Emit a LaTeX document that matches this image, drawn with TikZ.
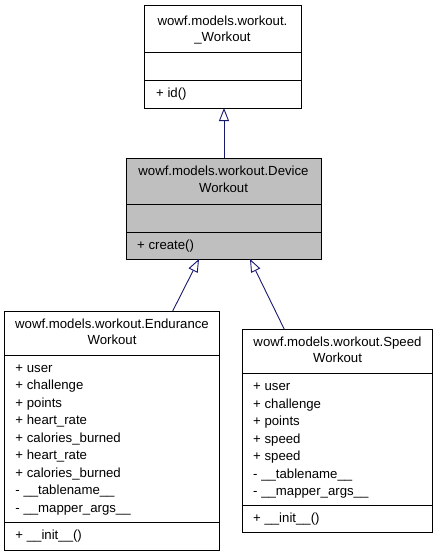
\documentclass[tikz,border=0pt]{standalone}
\usepackage{fontspec}
\setmainfont{Liberation Sans}
\usetikzlibrary{arrows.meta,calc}
\definecolor{edgeblue}{HTML}{191970}
\definecolor{boxgray}{HTML}{BFBFBF}
\begin{document}
\begin{tikzpicture}[x=1pt,y=-1pt,
  classbox/.style={draw=black,line width=0.9pt,rectangle,anchor=north west,inner sep=0pt,outer sep=0pt},
  sep/.style={draw=black,line width=0.9pt},
  txt/.style={inner sep=0pt,font=\fontsize{13.2}{16}\selectfont,text height=10pt,text depth=3pt},
  lt/.style={txt,anchor=west},
  inh/.style={draw=edgeblue,line width=0.9pt,-{Triangle[open,length=13pt,width=10pt,fill=white]}}]
\useasboundingbox (0,0) rectangle (437,557);

% _Workout
\node[classbox,minimum width=157pt,minimum height=103pt] (wk) at (144,5) {};
\draw[sep] (144,52) -- (301,52);
\draw[sep] (144,80) -- (301,80);
\node[txt] (wkt1) at (222.5,22) {wowf.models.workout.};
\node[txt] (wkt2) at (222.5,37.5) {\_Workout};
\node[lt] (wkm1) at (156,94) {+ id()};

% DeviceWorkout
\node[classbox,fill=boxgray,minimum width=195pt,minimum height=101pt] (dev) at (126,158) {};
\draw[sep] (126,204) -- (321,204);
\draw[sep] (126,232) -- (321,232);
\node[txt] (devt1) at (223.5,172) {wowf.models.workout.Device};
\node[txt] (devt2) at (223.5,188.5) {Workout};
\node[lt] (devm1) at (137,245.5) {+ create()};

% EnduranceWorkout
\node[classbox,minimum width=215pt,minimum height=239.5pt] (endu) at (4.5,311) {};
\draw[sep] (4.5,355.5) -- (219.5,355.5);
\draw[sep] (4.5,522.5) -- (219.5,522.5);
\node[txt] (endt1) at (112,324.5) {wowf.models.workout.Endurance};
\node[txt] (endt2) at (112,340.5) {Workout};
\foreach \t [count=\i from 0] in {+ user,+ challenge,+ points,+ heart\_rate,+ calories\_burned,+ heart\_rate,+ calories\_burned,- \_\_tablename\_\_,- \_\_mapper\_args\_\_}
  \node[lt] (enda\i) at (15.3,368.5+17.5*\i) {\t};
\node[lt] (endm1) at (15.3,536) {+ \_\_init\_\_()};

% SpeedWorkout
\node[classbox,minimum width=189.5pt,minimum height=203.5pt] (spd) at (242.7,329.3) {};
\draw[sep] (242.7,373.3) -- (432.2,373.3);
\draw[sep] (242.7,505) -- (432.2,505);
\node[txt] (spdt1) at (337.5,342.5) {wowf.models.workout.Speed};
\node[txt] (spdt2) at (337.5,358.5) {Workout};
\foreach \t [count=\i from 0] in {+ user,+ challenge,+ points,+ speed,+ speed,- \_\_tablename\_\_,- \_\_mapper\_args\_\_}
  \node[lt] (spda\i) at (253,387+17.5*\i) {\t};
\node[lt] (spdm1) at (253,519) {+ \_\_init\_\_()};

% inheritance
\draw[inh] ($(dev.north west)+(98,0)$) -- ($(wk.south west)+(80,0)$);
\draw[inh] ($(endu.north west)+(168.2,0)$) -- ($(dev.south west)+(73,0)$);
\draw[inh] ($(spd.north west)+(41.6,0)$) -- ($(dev.south west)+(124,0)$);
\end{tikzpicture}
\end{document}
